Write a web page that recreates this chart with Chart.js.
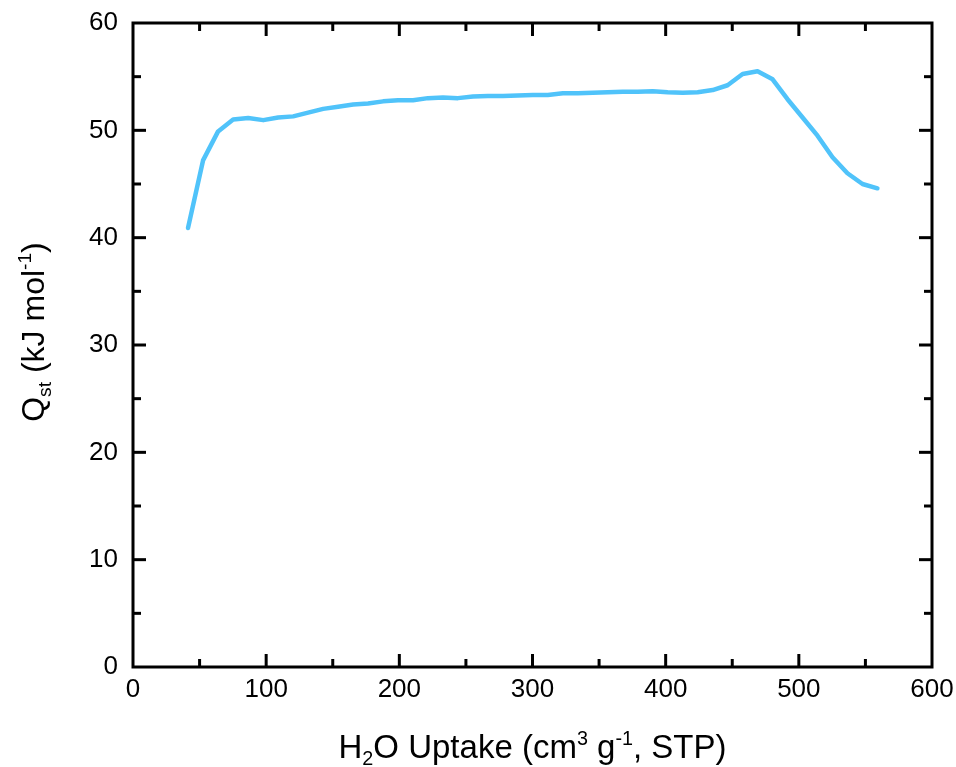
<!DOCTYPE html>
<html>
<head>
<meta charset="utf-8">
<script src="https://cdn.jsdelivr.net/npm/chart.js@4.4.1/dist/chart.umd.min.js"></script>
<style>
  html, body { margin: 0; padding: 0; background: #fff; }
</style>
</head>
<body>
<canvas id="qstChart" width="956" height="767"></canvas>
<script>
// ============================================================
// Data
// ============================================================

const uptake = [41.3, 52.6, 63.9, 75.2, 86.5, 97.8, 109.0, 120.3, 131.5, 142.8,
                154.0, 165.3, 176.5, 187.8, 199.0, 210.3, 221.5, 232.8, 244.0, 255.3,
                266.5, 277.8, 289.0, 300.3, 311.5, 322.8, 334.0, 345.3, 356.5, 367.8,
                379.0, 390.3, 401.5, 412.8, 424.0, 435.3, 446.5, 457.8, 469.0, 480.3,
                491.5, 502.8, 514.0, 525.3, 536.5, 547.8, 559.0];
const qst = [40.9, 47.2, 49.9, 51.0, 51.15, 50.95, 51.2, 51.3, 51.65, 52.0,
             52.2, 52.4, 52.5, 52.7, 52.8, 52.8, 53.0, 53.05, 53.0, 53.15,
             53.2, 53.2, 53.25, 53.3, 53.3, 53.45, 53.45, 53.5, 53.55, 53.6,
             53.6, 53.65, 53.55, 53.5, 53.55, 53.75, 54.2, 55.25, 55.5, 54.75,
             52.9, 51.2, 49.5, 47.5, 46.0, 45.0, 44.6];

const xMajorTicks = [0, 100, 200, 300, 400, 500, 600];
const yMajorTicks = [0, 10, 20, 30, 40, 50, 60];

// titles split in pieces so sub/superscripts can be drawn
const xTitle = [['H'], ['2', 'sub'], ['O Uptake (cm'], ['3', 'sup'], [' g'], ['-1', 'sup'], [', STP)']];
const yTitle = [['Q'], ['st', 'sub'], [' (kJ mol'], ['-1', 'sup'], [')']];

const FONT = '"Liberation Sans", Arial, sans-serif';
const LINE_COLOR = 'rgb(80, 195, 250)';

// ============================================================
// Helpers
// ============================================================

function richWidth(ctx, parts, size) {
    let w = 0;
    parts.forEach(p => {
        const s = p[1] ? size * 0.6 : size;
        ctx.font = `${s}px ${FONT}`;
        w += ctx.measureText(p[0]).width;
    });
    return w;
}

function drawRich(ctx, parts, size) {
    // draws centred on (0,0), baseline based
    let x = -richWidth(ctx, parts, size) / 2;
    const base = size * 0.36;
    parts.forEach(p => {
        let s = size, dy = 0;
        if (p[1] === 'sub') { s = size * 0.6; dy = size * 0.22; }
        if (p[1] === 'sup') { s = size * 0.6; dy = -size * 0.4; }
        ctx.font = `${s}px ${FONT}`;
        ctx.fillText(p[0], x, base + dy);
        x += ctx.measureText(p[0]).width;
    });
}

function noPadding(s) {
    s.paddingTop = 0;
    s.paddingBottom = 0;
    s.paddingLeft = 0;
    s.paddingRight = 0;
}

// frame, inward ticks on all sides and axis titles
const framePlugin = {
    id: 'frameTicks',
    afterDraw(chart) {
        const ctx = chart.ctx;
        const a = chart.chartArea;
        const xs = chart.scales.x;
        const ys = chart.scales.y;
        ctx.save();
        ctx.strokeStyle = '#000';
        ctx.lineWidth = 3;
        ctx.lineCap = 'butt';
        ctx.strokeRect(a.left, a.top, a.right - a.left, a.bottom - a.top);

        const line = (x1, y1, x2, y2) => {
            ctx.beginPath();
            ctx.moveTo(x1, y1);
            ctx.lineTo(x2, y2);
            ctx.stroke();
        };
        for (let v = 50; v < 600; v += 50) {
            const px = xs.getPixelForValue(v);
            const len = v % 100 === 0 ? 13 : 8;
            line(px, a.bottom, px, a.bottom - len);
            line(px, a.top, px, a.top + len);
        }
        for (let v = 5; v < 60; v += 5) {
            const py = ys.getPixelForValue(v);
            const len = v % 10 === 0 ? 13 : 8;
            line(a.left, py, a.left + len, py);
            line(a.right, py, a.right - len, py);
        }

        ctx.fillStyle = '#000';
        ctx.textAlign = 'left';
        ctx.textBaseline = 'alphabetic';
        ctx.save();
        ctx.translate((a.left + a.right) / 2, 746);
        drawRich(ctx, xTitle, 33);
        ctx.restore();

        ctx.save();
        ctx.translate(32, 332);
        ctx.rotate(-Math.PI / 2);
        drawRich(ctx, yTitle, 32);
        ctx.restore();
        ctx.restore();
    }
};

// ============================================================
// Chart
// ============================================================

function init() {
    const ctx = document.getElementById('qstChart').getContext('2d');
    new Chart(ctx, {
        type: 'line',
        data: {
            datasets: [{
                data: uptake.map((x, i) => ({ x: x, y: qst[i] })),
                borderColor: LINE_COLOR,
                borderWidth: 4.5,
                pointRadius: 0,
                tension: 0,
                fill: false,
                borderJoinStyle: 'round',
                borderCapStyle: 'round'
            }]
        },
        options: {
            responsive: false,
            animation: false,
            layout: { padding: { top: 23, right: 24, left: 0, bottom: 0 } },
            plugins: {
                legend: { display: false },
                tooltip: { enabled: false }
            },
            scales: {
                x: {
                    type: 'linear',
                    min: 0,
                    max: 600,
                    afterBuildTicks: s => { s.ticks = xMajorTicks.map(v => ({ value: v })); },
                    afterFit: s => { s.height = 100; noPadding(s); },
                    grid: { display: false, drawTicks: false },
                    border: { display: false },
                    ticks: { color: '#000', padding: 7, maxRotation: 0, font: { family: FONT, size: 26 } }
                },
                y: {
                    min: 0,
                    max: 60,
                    afterBuildTicks: s => { s.ticks = yMajorTicks.map(v => ({ value: v })); },
                    afterFit: s => { s.width = 133; noPadding(s); },
                    grid: { display: false, drawTicks: false },
                    border: { display: false },
                    ticks: { color: '#000', padding: 15, font: { family: FONT, size: 26 } }
                }
            }
        },
        plugins: [framePlugin]
    });
}

document.addEventListener('DOMContentLoaded', init);
</script>
</body>
</html>
